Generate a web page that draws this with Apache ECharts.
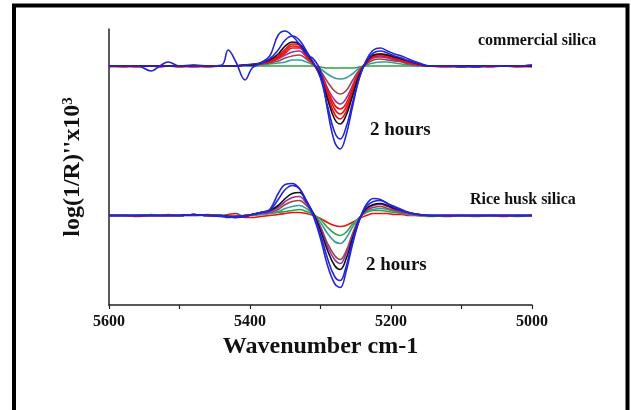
<!DOCTYPE html>
<html>
<head>
<meta charset="utf-8">
<script src="https://cdn.jsdelivr.net/npm/echarts@6/dist/echarts.min.js"></script>
<style>
html,body{margin:0;padding:0;background:#fff;}
#c{width:631px;height:410px;}
</style>
</head>
<body>
<div id="c"></div>
<script>
// Wavenumber grid (cm-1)
var xs = [5600,5580,5560,5540,5528,5516,5500,5480,5460,5440,5431,5420,5407,5397,5385,5372,5360,5350,5340,5330,5320,5310,5300,5290,5280,5272,5264,5255,5245,5235,5225,5215,5205,5195,5185,5175,5160,5145,5120,5100,5080,5060,5040,5020,5000];
var xTicks = [5600,5400,5200,5000];

// Vertical offsets of the two stacked groups (arbitrary units)
var commercialOffset = 239;
var riceOffset = 89.5;

// Commercial silica, second-derivative values (arbitrary units)
var comGreen  = [0,0,0,0,0,0, 0,0,0,0, 0,0,0,0, 0,0,0,0, 0,0,0,0, -1,-2,-2,-2, -2,-2,-1,0, 0,0,0,0, 0,0,0,0, 0,0,0,0, 0,0,0];
var comTeal   = [0,0,0,0,0,0, 0,0,0,0, 0,0,0,0, 1,2,3,4, 6,6,4,1, -3,-8,-12,-13, -12,-8,-2,1, 3,4,4,3, 2,1,0,0, 0,0,0,0, 0,0,0];
var comBrown  = [0,0,0,0,0,0, 0,0,0,0, 0,0,1,1, 2,3,5,8, 10,11,7,1, -5,-16,-25,-28, -25,-15,-4,2, 6,7,6,5, 4,2,1,0, 0,0,0,0, 0,0,0];
var comPurple = [0,0,0,0,0,0, 0,0,0,0, 0,0,1,1, 2,4,7,11, 14,15,9,2, -6,-22,-34,-38, -33,-20,-5,3, 8,9,8,6, 5,3,1,0, 0,0,0,0, 0,0,0];
var comRed3   = [0,-1,0,0,-1,0, 0,-1,0,0, 0,0,1,1, 2,4,8,13, 18,18,10,2, -7,-24,-39,-43, -38,-23,-6,3, 9,10,9,7, 5,3,1,0, -1,0,0,-1, 0,-1,0];
var comRed2   = [0,0,-1,0,0,0, -1,0,0,0, 0,0,1,1, 2,5,9,15, 20,19,11,2, -8,-27,-43,-48, -42,-26,-7,4, 10,11,10,8, 6,4,1,0, 0,-1,0,0, 0,0,-1];
var comRed1   = [-1,0,0,0,0,0, 0,0,-1,0, 0,0,1,1, 3,5,10,17, 22,21,12,2, -9,-30,-48,-53, -46,-29,-8,4, 10,12,11,9, 6,4,1,0, 0,0,-1,0, 0,0,0];
var comBlack  = [0,0,0,0,0,0, 0,1,0,0, 0,0,1,1, 3,6,12,20, 24,22,13,3, -10,-33,-53,-58, -50,-31,-9,4, 11,12,11,9, 7,5,2,0, 0,0,0,0, 0,0,0];
var comBlue2  = [0,0,0,0,0,0, 0,0,0,0, 0,0,1,2, 3,7,16,26, 30,26,15,3, -12,-40,-66,-73, -62,-38,-12,5, 13,15,13,10, 8,5,2,0, 0,-1,0,0, 0,0,1];
var comBlue1  = [0,0,0,-5,0,4, 0,0,0,1, 16,4,-14,-2, 3,10,31,35, 30,22,12,7, -5,-44,-76,-83, -70,-42,-12,6, 16,18,15,12, 10,7,3,0, 0,0,-1,0, 0,0,1];

// Rice husk silica, second-derivative values (arbitrary units)
var riceRed    = [0,0,-1,0,0,1, 0,0,1,0, 1,2,-2,-2, -1,0,1,2, 3,3,2,0, -3,-7,-10,-11, -10,-7,-3,0, 2,2,2,1, 1,0,0,0, -1,0,0,0, -1,0,0];
var riceGreen  = [0,0,0,1,0,0, 0,1,0,0, 0,-1,0,0, 1,2,3,4, 5,6,4,1, -4,-12,-18,-20, -17,-9,-2,3, 5,5,4,3, 2,1,0,-1, 0,0,-1,0, 0,-1,0];
var riceTeal   = [0,0,0,0,0,0, 0,0,0,-1, -1,0,0,1, 1,2,4,7, 9,10,7,1, -7,-18,-26,-28, -23,-12,-2,4, 6,7,6,4, 3,1,0,0, 0,0,0,0, 0,0,0];
var riceBrown  = [0,0,0,0,0,0, 0,1,0,0, 0,-1,0,1, 2,3,6,11, 14,15,10,2, -11,-28,-40,-44, -36,-19,-3,5, 8,9,7,5, 3,2,0,0, 0,0,0,0, 0,0,0];
var ricePurple = [0,0,0,0,0,0, 0,1,0,0, -1,-1,0,1, 2,4,8,14, 18,19,12,2, -12,-31,-44,-48, -39,-21,-3,6, 10,11,9,6, 4,2,1,0, 0,0,0,0, 0,0,0];
var riceBlack  = [0,0,0,0,0,0, 0,1,0,0, -1,-2,-1,1, 3,5,10,17, 22,23,14,2, -15,-35,-50,-54, -44,-24,-4,7, 11,12,10,7, 5,3,1,0, 0,0,0,0, 0,0,0];
var riceBlue2  = [0,0,0,0,0,0, 0,1,0,0, -1,-2,-1,1, 3,5,16,26, 30,27,15,1, -19,-43,-61,-65, -52,-27,-5,9, 14,15,12,8, 5,3,1,0, 0,0,0,0, 0,0,0];
var riceBlue1  = [0,0,0,0,0,0, 0,1,0,-1, -2,-1,0,1, 3,6,22,31, 32,27,14,-1, -23,-50,-68,-72, -57,-30,-5,11, 17,16,12,9, 6,3,1,0, 0,0,0,0, 0,0,0];

var BLUE='#2424d8', BLACK='#111111', RED='#ee1111', PURPLE='#9933aa', BROWN='#a04545', TEAL='#33a0a0', GREEN='#33a040';

var groups = [
  {off: commercialOffset, curves: [[comGreen,GREEN],[comTeal,TEAL],[comBrown,BROWN],[comPurple,PURPLE],[comRed3,RED],[comRed2,RED],[comRed1,RED],[comBlack,BLACK],[comBlue2,BLUE],[comBlue1,BLUE]]},
  {off: riceOffset, curves: [[riceRed,RED],[riceGreen,GREEN],[riceTeal,TEAL],[riceBrown,BROWN],[ricePurple,PURPLE],[riceBlack,BLACK],[riceBlue2,BLUE],[riceBlue1,BLUE]]}
];

var series = [];
groups.forEach(function(g){
  g.curves.forEach(function(c){
    series.push({
      type:'line', smooth:0.4, symbol:'none', silent:true,
      lineStyle:{color:c[1], width:1.6},
      data: xs.map(function(x,i){ return [x, c[0][i] + g.off]; })
    });
  });
});

var FONT = '"Liberation Serif","Times New Roman",serif';
var chart = echarts.init(document.getElementById('c'), null, {renderer:'canvas'});
chart.setOption({
  animation:false,
  backgroundColor:'#fff',
  grid:{left:109, right:99, top:29, bottom:105, containLabel:false},
  xAxis:{
    type:'value', min:5000, max:5600, interval:100, inverse:true,
    axisLine:{show:true, lineStyle:{color:'#222', width:1.5}},
    axisTick:{show:true, inside:false, length:4, lineStyle:{color:'#222', width:1.2}},
    splitLine:{show:false},
    axisLabel:{
      margin:9, color:'#111', fontFamily:FONT, fontWeight:'bold', fontSize:16,
      formatter:function(v){ return xTicks.indexOf(v) >= 0 ? String(v) : ''; }
    },
    name:'Wavenumber cm-1', nameLocation:'middle', nameGap:30,
    nameTextStyle:{color:'#111', fontFamily:FONT, fontWeight:'bold', fontSize:24}
  },
  yAxis:{
    type:'value', min:0, max:276,
    axisLine:{show:true, lineStyle:{color:'#222', width:1.5}},
    axisTick:{show:false}, axisLabel:{show:false}, splitLine:{show:false},
    name:"{a|log(1/R)''x10}{b|3}", nameLocation:'middle', nameGap:24, nameRotate:90,
    nameTextStyle:{
      color:'#111', fontFamily:FONT, fontWeight:'bold', fontSize:24,
      rich:{
        a:{color:'#111', fontFamily:FONT, fontWeight:'bold', fontSize:24},
        b:{color:'#111', fontFamily:FONT, fontWeight:'bold', fontSize:15, verticalAlign:'top'}
      }
    }
  },
  series: series,
  graphic:[
    {type:'rect', z:-1, silent:true, shape:{x:14, y:5.5, width:613.5, height:460}, style:{fill:'none', stroke:'#000', lineWidth:4}},
    {type:'text', left:478, top:33, silent:true, style:{text:'commercial silica', fill:'#111', font:'bold 16px '+FONT}},
    {type:'text', left:470, top:192, silent:true, style:{text:'Rice husk silica', fill:'#111', font:'bold 16px '+FONT}},
    {type:'text', left:370, top:121, silent:true, style:{text:'2 hours', fill:'#111', font:'bold 19px '+FONT}},
    {type:'text', left:366, top:256, silent:true, style:{text:'2 hours', fill:'#111', font:'bold 19px '+FONT}}
  ]
});
</script>
</body>
</html>
